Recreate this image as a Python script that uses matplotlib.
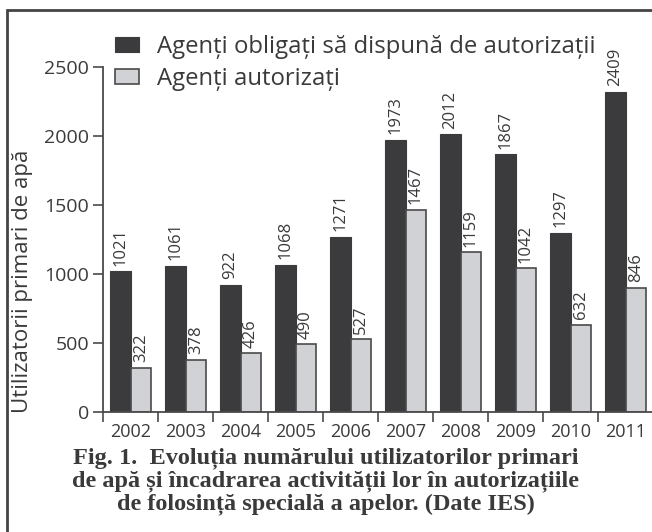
import numpy as np
import matplotlib
matplotlib.use('Agg')
import matplotlib.pyplot as plt
from matplotlib.patches import Rectangle

# data
years = ['2002', '2003', '2004', '2005', '2006', '2007', '2008', '2009', '2010', '2011']
obligati = [1021, 1061, 922, 1068, 1271, 1973, 2012, 1867, 1297, 2320]
autorizati = [322, 378, 426, 490, 527, 1467, 1159, 1042, 632, 900]
# printed labels (the 2011 bars are drawn shorter/taller than printed)
obligati_labels = ['1021', '1061', '922', '1068', '1271', '1973', '2012', '1867', '1297', '2409']
autorizati_labels = ['322', '378', '426', '490', '527', '1467', '1159', '1042', '632', '846']
legend_labels = ['Agenți obligați să dispună de autorizații', 'Agenți autorizați']
ylabel = 'Utilizatorii primari de apă'
caption_lines = ['Fig. 1.  Evoluția numărului utilizatorilor primari',
                 'de apă și încadrarea activității lor în autorizațiile',
                 'de folosință specială a apelor. (Date IES)']

dark = '#3b3b3d'
light = '#d1d2d6'
txt = '#3a3a3a'
axc = '#4a4a4a'

plt.rcParams['font.family'] = ['Open Sans', 'DejaVu Sans']

W, H = 652, 532
fig = plt.figure(figsize=(W / 100, H / 100), dpi=100)
ax = fig.add_axes([103 / W, 1 - 412 / H, 550 / W, 345 / H])

x = np.arange(len(years))
bw = 0.38
b1 = ax.bar(x - bw / 2, obligati, bw, color=dark, edgecolor=dark, linewidth=0.8,
            label=legend_labels[0])
b2 = ax.bar(x + bw / 2, autorizati, bw, color=light, edgecolor=axc, linewidth=1.2,
            label=legend_labels[1])

for bars, labs in ((b1, obligati_labels), (b2, autorizati_labels)):
    for rect, lab in zip(bars, labs):
        ax.annotate(lab, (rect.get_x() + rect.get_width() / 2, rect.get_height()),
                    xytext=(0, 4), textcoords='offset points', rotation=90,
                    ha='center', va='bottom', fontsize=12, color=txt)

ax.set_xlim(-0.5, len(years) - 0.5)
ax.set_ylim(0, 2500)
ax.set_yticks([0, 500, 1000, 1500, 2000, 2500])
ax.set_xticks(x)
ax.set_xticklabels(years)
ax.set_xticks(np.arange(len(years) + 1) - 0.5, minor=True)
ax.tick_params(axis='x', which='major', length=0, labelsize=13, colors=txt, pad=8)
ax.tick_params(axis='x', which='minor', length=7, width=1.2, color=axc, direction='out')
ax.tick_params(axis='y', length=7, width=1.2, color=axc, labelsize=14, labelcolor=txt, pad=3)
for s in ('top', 'right'):
    ax.spines[s].set_visible(False)
for s in ('left', 'bottom'):
    ax.spines[s].set_color(axc)
    ax.spines[s].set_linewidth(1.3)

fig.text(23 / W, 1 - 281 / H, ylabel, rotation=90, ha='center', va='center',
         fontsize=16, color=txt)

ax.legend(loc='upper left', bbox_to_anchor=(115 / W, 1 - 35 / H),
          bbox_transform=fig.transFigure, frameon=False, fontsize=17.2,
          handlelength=1.0, handleheight=0.58, handletextpad=0.75,
          labelspacing=0.35, borderaxespad=0, borderpad=0,
          labelcolor=txt)

# caption, one baseline per line
for line, yb in zip(caption_lines, [463, 486, 509]):
    fig.text(326 / W, 1 - yb / H, line, ha='center', va='baseline', fontsize=17.5,
             fontweight='bold', family='Liberation Serif', color=txt)

# outer frame (right and bottom edges fall outside the image)
fig.patches.append(Rectangle((7 / W, -0.1), 1.2, 1 - 10 / H + 0.1,
                             transform=fig.transFigure, fill=False,
                             edgecolor='#444444', linewidth=2, figure=fig))

fig.savefig('out.png', dpi=100)
